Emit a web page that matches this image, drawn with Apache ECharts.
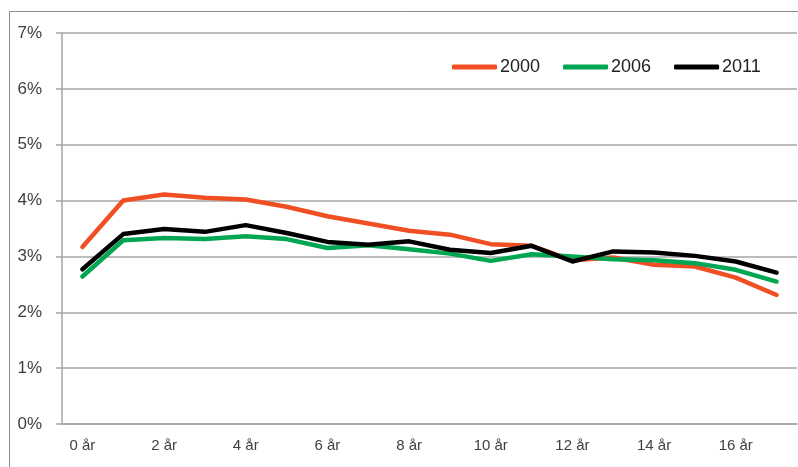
<!DOCTYPE html>
<html>
<head>
<meta charset="utf-8">
<script src="https://cdn.jsdelivr.net/npm/echarts@6/dist/echarts.min.js"></script>
<style>
  html, body { margin: 0; padding: 0; background: #fff; }
  #chart { width: 798px; height: 467px; }
</style>
</head>
<body>
<div id="chart"></div>
<script>
// categories: age in years
const ages = ['0 år', '1 år', '2 år', '3 år', '4 år', '5 år', '6 år', '7 år', '8 år',
  '9 år', '10 år', '11 år', '12 år', '13 år', '14 år', '15 år', '16 år', '17 år'];

// share in percent
const y2000 = [3.17, 4.00, 4.11, 4.05, 4.02, 3.89, 3.72, 3.59, 3.46, 3.39, 3.22, 3.19, 2.93, 2.98, 2.85, 2.82, 2.62, 2.31];
const y2006 = [2.64, 3.29, 3.33, 3.31, 3.36, 3.31, 3.15, 3.20, 3.13, 3.05, 2.92, 3.04, 3.00, 2.95, 2.93, 2.88, 2.76, 2.55];
const y2011 = [2.77, 3.40, 3.49, 3.44, 3.56, 3.42, 3.26, 3.21, 3.27, 3.12, 3.06, 3.19, 2.91, 3.09, 3.07, 3.01, 2.91, 2.71];

const yTicks = { min: 0, max: 7, step: 1 };

const font = '"Liberation Sans Narrow", "Liberation Sans", sans-serif';
const gridColor = '#a6a6a6';

const chart = echarts.init(document.getElementById('chart'), null, { renderer: 'canvas' });

const mkLine = (name, data, color) => ({
  name: name,
  type: 'line',
  data: data,
  symbol: 'none',
  smooth: false,
  lineStyle: { width: 4.5, color: color, cap: 'round', join: 'round' },
  itemStyle: { color: color },
  emphasis: { disabled: true }
});

chart.setOption({
  animation: false,
  backgroundColor: '#fff',
  graphic: [{
    type: 'rect',
    left: 7, top: 9,
    shape: { width: 800, height: 470 },
    style: { fill: 'none', stroke: '#8c8c8c', lineWidth: 1 },
    silent: true
  }],
  grid: { left: 62, right: 1, top: 33, bottom: 43, containLabel: false },
  legend: {
    data: ['2000', '2006', '2011'],
    left: 447, top: 53,
    icon: 'roundRect',
    itemWidth: 45, itemHeight: 5,
    itemGap: 23,
    textStyle: { fontFamily: font, fontSize: 18, color: '#222', padding: [0, 0, 0, -2] }
  },
  xAxis: {
    type: 'category',
    data: ages,
    boundaryGap: true,
    axisLine: { lineStyle: { color: gridColor, width: 1.5 } },
    axisTick: { show: false },
    axisLabel: { interval: 1, margin: 14, fontFamily: font, fontSize: 15, color: '#404040' }
  },
  yAxis: {
    type: 'value',
    min: yTicks.min, max: yTicks.max, interval: yTicks.step,
    axisLine: { show: true, lineStyle: { color: gridColor, width: 1.5 } },
    axisTick: { show: true, length: 6, lineStyle: { color: gridColor, width: 1.5 } },
    splitLine: { lineStyle: { color: gridColor, width: 1.5 } },
    axisLabel: { formatter: '{value}%', margin: 20, fontFamily: font, fontSize: 17, color: '#404040' }
  },
  series: [
    mkLine('2000', y2000, '#f04e23'),
    mkLine('2006', y2006, '#00a651'),
    mkLine('2011', y2011, '#000000')
  ]
});
</script>
</body>
</html>
